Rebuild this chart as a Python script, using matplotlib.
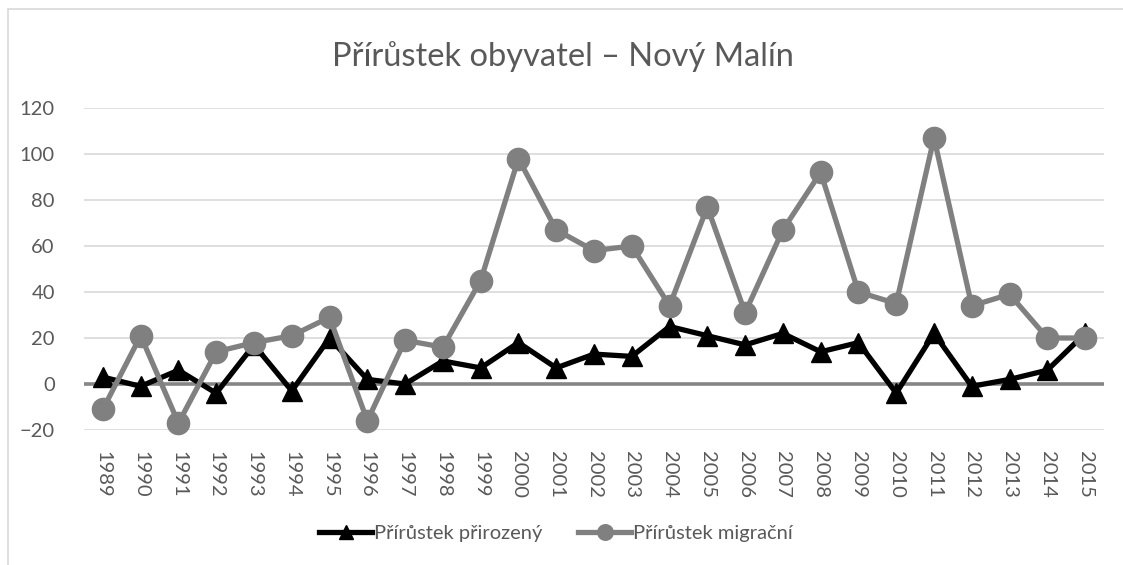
import matplotlib as mpl
import matplotlib.pyplot as plt
from matplotlib.patches import Rectangle

years = [str(y) for y in range(1989, 2016)]
prirozeny = [3, -1, 6, -4, 17, -3, 20, 2, 0, 10, 7, 18, 7,
             13, 12, 25, 21, 17, 22, 14, 18, -4, 22, -1, 2, 6, 22]
migracni = [-11, 21, -17, 14, 18, 21, 29, -16, 19, 16, 45, 98, 67,
            58, 60, 34, 77, 31, 67, 92, 40, 35, 107, 34, 39, 20, 20]
y_ticks = [-20, 0, 20, 40, 60, 80, 100, 120]

TEXT = "#595959"
W, H = 1123, 565


def configure_style() -> None:
    mpl.rcParams.update(
        {
            "font.family": ["Lato", "DejaVu Sans"],
            "font.size": 14,
            "text.color": TEXT,
            "axes.labelcolor": TEXT,
            "xtick.color": TEXT,
            "ytick.color": TEXT,
        }
    )


def main() -> None:
    configure_style()
    fig = plt.figure(figsize=(W / 100, H / 100), dpi=100)
    fig.patches.append(Rectangle((8 / W, -0.1), 1.2, (H - 9) / H + 0.1,
                                 transform=fig.transFigure, fill=False,
                                 edgecolor="#d9d9d9", lw=1.2))
    # plot area: y=120 at 108 px, y=-20 at 430 px from top
    ax = fig.add_axes([84 / W, 135 / H, 1020 / W, 322 / H])
    x = list(range(len(years)))
    ax.set_xlim(-0.5, len(years) - 0.5)
    ax.set_ylim(-20, 120)
    ax.set_yticks(y_ticks)
    for t in y_ticks:
        if t != 0:
            ax.axhline(t, color="#d9d9d9", lw=1.2, zorder=0)
    ax.axhline(0, color="#868686", lw=2.6, zorder=1)
    for side in ax.spines.values():
        side.set_visible(False)
    ax.tick_params(axis="both", length=0, labelsize=14.5)
    ax.tick_params(axis="y", pad=21)
    ax.tick_params(axis="x", pad=15)
    ax.set_xticks(x)
    ax.set_xticklabels(years, rotation=-90, va="top", ha="center")

    ax.plot(x, prirozeny, color="black", lw=3.8, marker="^", markersize=15,
            label="Přírůstek přirozený", zorder=3, clip_on=False)
    ax.plot(x, migracni, color="#808080", lw=3.8, marker="o", markersize=16,
            label="Přírůstek migrační", zorder=4, clip_on=False)

    fig.text(563 / W, 1 - 57 / H, "Přírůstek obyvatel – Nový Malín",
             ha="center", va="center", fontsize=23.5, color=TEXT)
    fig.legend(loc="center", bbox_to_anchor=(556 / W, 1 - 533 / H), ncol=2,
               frameon=False, fontsize=14.5, handlelength=2.6,
               handletextpad=0.1, columnspacing=1.8, markerscale=0.7)
    fig.savefig("out.png", dpi=100)
    plt.close(fig)


if __name__ == "__main__":
    main()
